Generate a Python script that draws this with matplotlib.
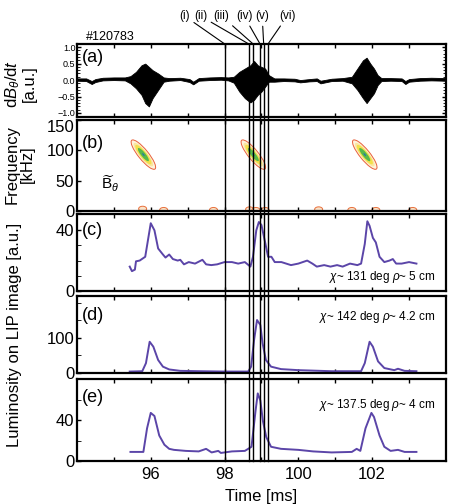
import matplotlib
matplotlib.use("Agg")
import matplotlib.pyplot as plt
from matplotlib.patches import Ellipse
from matplotlib.lines import Line2D
from matplotlib.transforms import ScaledTranslation, blended_transform_factory

plt.rcParams['font.family'] = ['Liberation Sans', 'DejaVu Sans']
plt.rcParams['mathtext.fontset'] = 'custom'
plt.rcParams['mathtext.rm'] = 'Liberation Sans'
plt.rcParams['mathtext.it'] = 'Liberation Sans:italic'

# (a) dB/dt envelope [ms], [a.u.]
a_time = [94.0, 94.25, 94.4, 94.5, 94.7, 95.0, 95.3, 95.45, 95.6, 95.75, 95.85, 95.95,
          96.05, 96.2, 96.35, 96.5, 96.8, 97.05, 97.15, 97.3, 97.6, 97.9, 98.1, 98.25,
          98.4, 98.55, 98.7, 98.8, 98.9, 99.0, 99.1, 99.2, 99.35, 99.6, 99.9, 100.05,
          100.3, 100.5, 100.6, 100.9, 101.2, 101.45, 101.6, 101.75, 101.85, 101.95,
          102.05, 102.15, 102.25, 102.5, 102.8, 102.9, 103.0, 103.3, 103.6, 104.0]
a_upper = [0.05, 0.05, -0.03, 0.03, 0.07, 0.08, 0.08, 0.12, 0.25, 0.45, 0.5, 0.4,
           0.3, 0.2, 0.08, 0.06, 0.07, 0.03, -0.05, 0.06, 0.08, 0.09, 0.08, 0.1,
           0.25, 0.35, 0.45, 0.58, 0.45, 0.4, 0.35, 0.15, 0.05, 0.05, 0.04, 0.0,
           0.03, 0.05, -0.02, 0.04, 0.06, 0.1, 0.35, 0.6, 0.68, 0.5,
           0.35, 0.15, 0.06, 0.06, 0.05, -0.03, 0.03, 0.06, 0.07, 0.06]
a_lower = [-0.02, -0.03, -0.12, -0.06, -0.01, 0.0, -0.01, -0.1, -0.25, -0.45, -0.7, -0.8,
           -0.55, -0.3, -0.05, -0.02, 0.0, -0.06, -0.13, -0.02, 0.0, 0.01, -0.01, -0.08,
           -0.35, -0.55, -0.68, -0.6, -0.45, -0.35, -0.2, -0.05, -0.05, -0.03, -0.04, -0.07,
           -0.04, -0.03, -0.1, -0.03, -0.02, -0.1, -0.3, -0.55, -0.7, -0.55,
           -0.4, -0.15, -0.03, -0.02, -0.03, -0.12, -0.05, -0.02, -0.01, -0.02]

# (b) spectrogram blobs
blob_time = [95.8, 98.78, 101.8]
blob_freq = [93, 93, 93]
small_time = [95.78, 96.35, 97.7, 98.68, 98.85, 99.1, 100.55, 101.45, 102.1, 103.1]
small_freq = [4, 2, 2, 3, 2, 2, 3, 2, 2, 2]

# (c) chi~131 deg
c_time = [95.43, 95.49, 95.57, 95.6, 95.7, 95.85, 96.0, 96.1, 96.2, 96.33, 96.4, 96.5,
          96.6, 96.73, 96.8, 96.9, 97.03, 97.2, 97.4, 97.5, 97.64, 97.8, 98.0, 98.2,
          98.37, 98.55, 98.7, 98.77, 98.86, 98.93, 99.0, 99.1, 99.18, 99.27, 99.36,
          99.54, 99.8, 100.0, 100.24, 100.38, 100.5, 100.7, 100.87, 101.05, 101.2,
          101.4, 101.6, 101.7, 101.8, 101.87, 101.93, 102.02, 102.1, 102.2, 102.33,
          102.47, 102.56, 102.65, 102.8, 103.0, 103.2]
c_val = [16, 13, 14, 19.5, 20, 22.5, 44.7, 40, 28, 24, 22, 24,
         21, 20, 20.5, 17.5, 19, 18, 20.5, 17.5, 17, 17.5, 19, 19,
         18, 19, 16, 22.5, 40, 45.5, 43.5, 32, 22.5, 22.5, 19,
         19, 17, 18, 20, 18, 16, 17, 16, 17, 16,
         18, 17, 18, 31, 46, 43, 35, 32, 22.5, 19,
         20, 21, 18, 18, 19, 18]

# (d) chi~142 deg
d_time = [95.43, 95.77, 95.87, 95.97, 96.07, 96.2, 96.33, 96.5, 96.8, 97.34, 98.0,
          98.64, 98.72, 98.8, 98.88, 98.97, 99.03, 99.12, 99.26, 99.53, 100.0, 100.9,
          101.7, 101.8, 101.93, 102.02, 102.16, 102.33, 102.6, 102.7, 102.88, 103.2]
d_val = [4, 5, 28, 89, 75, 37, 18, 10, 6, 5, 4,
         4, 18, 94, 151, 137, 85, 37, 18, 11, 8, 5,
         5, 28, 89, 75, 33, 14, 8, 12, 6, 5]

# (e) chi~137.5 deg
e_time = [95.45, 95.8, 95.9, 96.0, 96.1, 96.23, 96.37, 96.5, 96.63, 96.95, 97.3, 97.5,
          97.65, 97.83, 97.9, 98.2, 98.55, 98.73, 98.84, 98.9, 98.97, 99.04, 99.13,
          99.26, 99.53, 100.0, 100.4, 100.9, 101.45, 101.58, 101.68, 101.82, 101.98,
          102.05, 102.2, 102.33, 102.5, 102.7, 102.88, 103.2]
e_val = [9, 9, 32, 47, 44, 25, 16, 12, 11, 10, 9.5, 12,
         8.5, 10, 8, 9.5, 10, 14, 49, 66, 59, 39, 23.5,
         14, 12, 11, 9.5, 8.5, 9, 12, 10, 32, 47,
         43, 25, 14, 10, 11, 9, 9]

event_time = [98.0, 98.65, 98.77, 98.96, 99.06, 99.18]
event_label = ["(i)", "(ii)", "(iii)", "(iv)", "(v)", "(vi)"]
event_label_x = [96.92, 97.35, 97.92, 98.53, 99.02, 99.7]

purple = "#5b45a8"

fig = plt.figure(figsize=(4.5, 5.04), dpi=100)
left, width = 0.171, 0.82
ax_a = fig.add_axes([left, 0.768, width, 0.145])
ax_b = fig.add_axes([left, 0.581, width, 0.181])
ax_c = fig.add_axes([left, 0.423, width, 0.153])
ax_d = fig.add_axes([left, 0.260, width, 0.153])
ax_e = fig.add_axes([left, 0.085, width, 0.163])
axes = [ax_a, ax_b, ax_c, ax_d, ax_e]

for ax in axes:
    ax.set_xlim(94, 104)
    ax.set_xticks([95, 96, 97, 98, 99, 100, 101, 102, 103])
    ax.set_xticklabels([])
    ax.tick_params(direction="in", length=3, width=1, top=True, right=False,
                   labelsize=12, pad=2)
    for sp in ax.spines.values():
        sp.set_linewidth(1.6)

# (a)
ax_a.fill_between(a_time, a_lower, a_upper, color="black", lw=0.6, edgecolor="black")
ax_a.set_ylim(-1.12, 1.1)
ax_a.set_yticks([-1.0, -0.5, 0.0, 0.5, 1.0])
ax_a.set_yticklabels(["\u22121.0", "\u22120.5", "0.0", "0.5", "1.0"])
ax_a.set_yticks([i / 10 for i in range(-10, 11)], minor=True)
ax_a.tick_params(axis="y", labelsize=6.5, right=True, pad=1)
ax_a.tick_params(axis="y", which="minor", direction="in", length=2, right=True)
ax_a.text(0.012, 0.82, "(a)", transform=ax_a.transAxes, fontsize=13, va="center")
ax_a.text(0.025, 1.09, "#120783", transform=ax_a.transAxes, fontsize=9, va="center")

# (b)
ax_b.set_ylim(0, 150)
ax_b.set_yticks([0, 50, 100, 150])
ax_b.set_yticklabels(["0", "50", "100", "150"])
ax_b.get_yticklabels()[-1].set_verticalalignment("top")
ax_b.tick_params(axis="y", labelsize=12)
levels = [(1.0, "#fff3dc", "#e8603c"), (0.8, "#fbe6a0", "none"), (0.66, "#f2e04a", "none"),
          (0.45, "#58b94a", "none"), (0.1, "#1d5fc4", "none")]
for t, f in zip(blob_time, blob_freq):
    for scale, fc, ec in levels:
        e = Ellipse((0, 0), 0.37 * scale, 0.1 * scale, angle=-51,
                    facecolor=fc, edgecolor=ec, lw=0.7,
                    transform=fig.dpi_scale_trans + ScaledTranslation(t, f, ax_b.transData))
        ax_b.add_artist(e)
for t, f in zip(small_time, small_freq):
    e = Ellipse((0, 0), 0.08, 0.05, facecolor="#fbe2c8", edgecolor="#e8703c", lw=0.7,
                transform=fig.dpi_scale_trans + ScaledTranslation(t, f, ax_b.transData))
    ax_b.add_artist(e)
ax_b.text(0.012, 0.74, "(b)", transform=ax_b.transAxes, fontsize=13, va="center")
ax_b.text(94.65, 45, r"$\widetilde{\mathrm{B}}_\theta$", fontsize=11, va="center")

# (c)
ax_c.plot(c_time, c_val, color=purple, lw=1.4)
ax_c.set_ylim(0, 51)
ax_c.set_yticks([0, 40])
ax_c.set_yticks([10, 20, 30], minor=True)
ax_c.tick_params(axis="y", which="minor", direction="in", length=3)
ax_c.text(0.012, 0.78, "(c)", transform=ax_c.transAxes, fontsize=13, va="center")
ax_c.text(0.973, 0.18, r"$\chi$~ 131 deg $\rho$~ 5 cm", transform=ax_c.transAxes,
          fontsize=8.5, ha="right", va="center")

# (d)
ax_d.plot(d_time, d_val, color=purple, lw=1.4)
ax_d.set_ylim(0, 220)
ax_d.set_yticks([0, 100])
ax_d.set_yticks([50, 150, 200], minor=True)
ax_d.tick_params(axis="y", which="minor", direction="in", length=3)
ax_d.text(0.012, 0.75, "(d)", transform=ax_d.transAxes, fontsize=13, va="center")
ax_d.text(0.973, 0.73, r"$\chi$~ 142 deg $\rho$~ 4.2 cm", transform=ax_d.transAxes,
          fontsize=8.5, ha="right", va="center")

# (e)
ax_e.plot(e_time, e_val, color=purple, lw=1.4)
ax_e.set_ylim(0, 80)
ax_e.set_yticks([0, 40])
ax_e.set_yticks([20, 60], minor=True)
ax_e.tick_params(axis="y", which="minor", direction="in", length=3)
ax_e.text(0.012, 0.78, "(e)", transform=ax_e.transAxes, fontsize=13, va="center")
ax_e.text(0.973, 0.68, r"$\chi$~ 137.5 deg $\rho$~ 4 cm", transform=ax_e.transAxes,
          fontsize=8.5, ha="right", va="center")
ax_e.set_xticklabels(["", "96", "", "98", "", "100", "", "102", ""])
ax_e.tick_params(axis="x", labelsize=12, pad=4)
ax_e.set_xlabel("Time [ms]", fontsize=12, labelpad=5)

# event lines through all panels
trans = blended_transform_factory(ax_e.transData, fig.transFigure)
for t in event_time:
    fig.add_artist(Line2D([t, t], [0.085, 0.913], transform=trans, color="black", lw=1.0))
for t, lx, lab in zip(event_time, event_label_x, event_label):
    ax_a.annotate(lab, xy=(t, 1.0), xycoords=("data", "axes fraction"),
                  xytext=(lx, 1.38), textcoords=("data", "axes fraction"),
                  fontsize=8.5, ha="center", va="center", annotation_clip=False,
                  arrowprops=dict(arrowstyle="-", lw=0.8, color="black",
                                  shrinkA=1, shrinkB=0))

# y labels
fig.text(20 / 450, 1 - 84 / 504, "d$B_\\theta$/d$t$\n[a.u.]", rotation=90,
         ha="center", va="center", fontsize=12, linespacing=1.0)
fig.text(20 / 450, 1 - 164 / 504, "Frequency\n[kHz]", rotation=90,
         ha="center", va="center", fontsize=12, linespacing=1.0)
fig.text(15 / 450, 1 - 335 / 504, "Luminosity on LIP image [a.u.]", rotation=90,
         ha="center", va="center", fontsize=12)

fig.savefig("out.png", dpi=100)
